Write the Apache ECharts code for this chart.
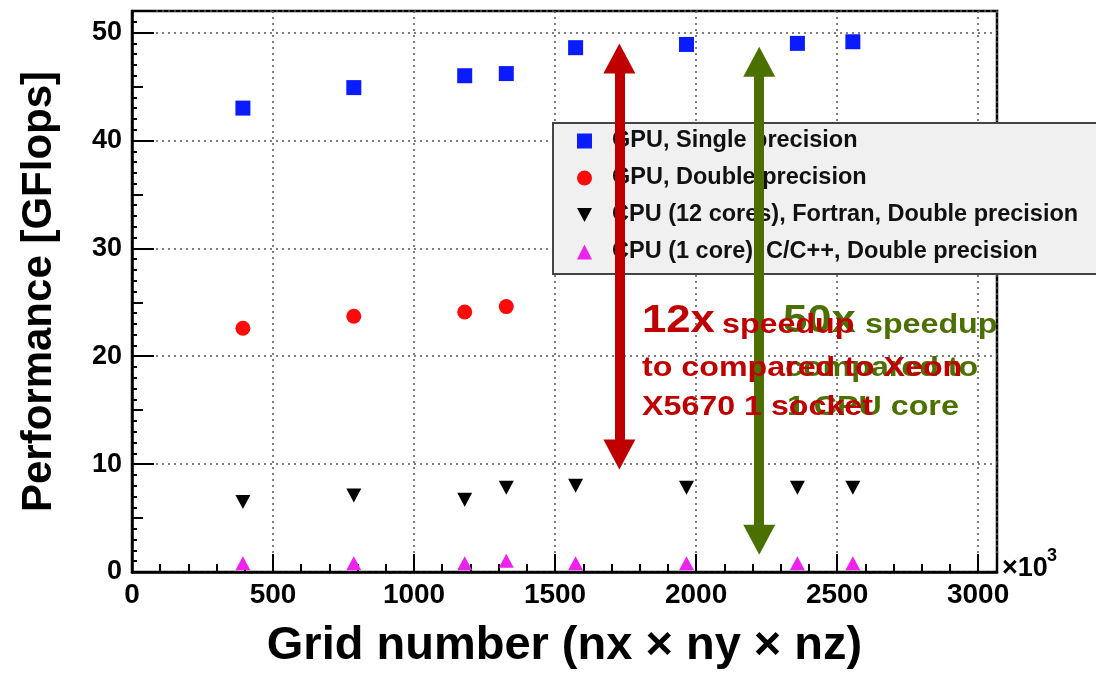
<!DOCTYPE html>
<html>
<head>
<meta charset="utf-8">
<script src="https://cdn.jsdelivr.net/npm/echarts@6/dist/echarts.min.js"></script>
<style>html,body{margin:0;padding:0;background:#fff;}#c{width:1096px;height:675px;}</style>
</head>
<body>
<div id="c"></div>
<script>
// Grid number (x10^3)
const gridX = [393.216, 786.432, 1179.648, 1327.104, 1572.864, 1966.08, 2359.296, 2555.904];
const gpuSingle = [43.0, 44.9, 46.0, 46.2, 48.6, 48.9, 49.0, 49.15];
const gpuDoubleX = [393.216, 786.432, 1179.648, 1327.104];
const gpuDouble = [22.6, 23.7, 24.1, 24.6];
const cpu12 = [6.5, 7.1, 6.7, 7.8, 8.0, 7.8, 7.8, 7.8];
const cpu1 = [0.8, 0.8, 0.8, 1.05, 0.8, 0.8, 0.8, 0.8];
const seriesNames = ['GPU, Single precision', 'GPU, Double precision',
  'CPU (12 cores), Fortran, Double precision', 'CPU (1 core), C/C++, Double precision'];
// Arrow annotations: [x, yStart, yEnd]
const redArrow = [1728, 47.6, 10.9];
const greenArrow = [2224, 47.3, 3.0];

const FONT = "'Liberation Sans', Arial, Helvetica, sans-serif";
const zip = (xs, ys) => xs.map((x, i) => [x, ys[i]]);

const chart = echarts.init(document.getElementById('c'), null, {renderer: 'canvas'});
const option = {
  animation: false,
  backgroundColor: '#fff',
  grid: {left: 132, right: 99, top: 11, bottom: 101, show: true, borderColor: '#000', borderWidth: 2.5, backgroundColor: 'transparent'},
  xAxis: {
    type: 'value', min: 0, max: 3067, interval: 500,
    name: 'Grid number (nx \u00d7 ny \u00d7 nz)', nameLocation: 'middle', nameGap: 51,
    nameTextStyle: {fontFamily: FONT, fontWeight: 'bold', fontSize: 47, color: '#000'},
    axisLine: {show: true, onZero: false, lineStyle: {color: '#000', width: 2.5}},
    axisTick: {show: true, inside: true, length: 18, lineStyle: {color: '#000', width: 2}},
    minorTick: {show: true, splitNumber: 5, length: 8, lineStyle: {color: '#000', width: 2}},
    axisLabel: {fontFamily: FONT, fontWeight: 'bold', fontSize: 28, color: '#000', margin: 9, formatter: v => String(v)},
    splitLine: {show: true, lineStyle: {color: '#555', width: 1.5, type: [2, 4]}}
  },
  yAxis: [{
    type: 'value', min: 0, max: 52, interval: 10,
    name: 'Performance [GFlops]', nameLocation: 'middle', nameGap: 72,
    nameTextStyle: {fontFamily: FONT, fontWeight: 'bold', fontSize: 42, color: '#000'},
    axisLine: {show: true, onZero: false, lineStyle: {color: '#000', width: 2.5}},
    axisTick: {show: true, inside: true, length: 22, lineStyle: {color: '#000', width: 2}},
    minorTick: {show: true, splitNumber: 10, length: 5, lineStyle: {color: '#000', width: 2}},
    axisLabel: {fontFamily: FONT, fontWeight: 'bold', fontSize: 27, color: '#000', margin: 10},
    splitLine: {show: true, lineStyle: {color: '#555', width: 1.5, type: [2, 4]}}
  }, {
    type: 'value', min: 0, max: 52, interval: 5, position: 'left', offset: 0,
    axisLine: {show: false}, axisLabel: {show: false}, splitLine: {show: false},
    axisTick: {show: true, inside: true, length: 11, lineStyle: {color: '#000', width: 2}}
  }],
  legend: {
    data: [
      {name: seriesNames[0]},
      {name: seriesNames[1]},
      {name: seriesNames[2], icon: 'path://M0,0L16,0L8,15Z'},
      {name: seriesNames[3]}
    ],
    orient: 'vertical', left: 553, top: 123,
    itemWidth: 15, itemHeight: 15, itemGap: 13,
    padding: [6, 40, 10, 24],
    backgroundColor: '#f0f0f0', borderColor: '#444', borderWidth: 2,
    textStyle: {fontFamily: FONT, fontWeight: 'bold', fontSize: 23.5, color: '#111', padding: [0, 0, 0, 15]},
    selectedMode: false
  },
  series: [
    {name: seriesNames[0], type: 'scatter', data: zip(gridX, gpuSingle), symbol: 'rect', symbolSize: 15,
      itemStyle: {color: '#0a1cff', opacity: 1}},
    {name: seriesNames[1], type: 'scatter', data: zip(gpuDoubleX, gpuDouble), symbol: 'circle', symbolSize: 15,
      itemStyle: {color: '#ff0a0a', opacity: 1}},
    {name: seriesNames[2], type: 'scatter', data: zip(gridX, cpu12), symbol: 'triangle', symbolRotate: 180, symbolSize: [15, 14],
      itemStyle: {color: '#000', opacity: 1}},
    {name: seriesNames[3], type: 'scatter', data: zip(gridX, cpu1), symbol: 'triangle', symbolSize: [15, 14],
      itemStyle: {color: '#ee22ee', opacity: 1}},
    {name: 'arrows', type: 'scatter', data: [], z: 10, silent: true,
      markLine: {
        silent: true, symbol: ['triangle', 'triangle'], symbolSize: [32, 30],
        label: {show: false}, emphasis: {disabled: true},
        data: [
          [{coord: [greenArrow[0], greenArrow[1]], lineStyle: {color: '#4b7000', width: 10, type: 'solid'}, itemStyle: {color: '#4b7000'}},
           {coord: [greenArrow[0], greenArrow[2]]}],
          [{coord: [redArrow[0], redArrow[1]], lineStyle: {color: '#c00000', width: 10, type: 'solid'}, itemStyle: {color: '#c00000'}},
           {coord: [redArrow[0], redArrow[2]]}]
        ]
      }}
  ]
};
chart.setOption(option);

const t = (text, x, y, size, color, z, sx) => ({
  type: 'text', x: x, y: y, z: z, scaleX: sx || 1.15, silent: true,
  style: {text: text, fill: color, fontFamily: FONT, fontWeight: 'bold', fontSize: size, verticalAlign: 'middle', textVerticalAlign: 'middle'}
});
const GREEN = '#4b7000', RED = '#c00000';
chart.setOption({graphic: [
  t('50x', 783, 322, 38, GREEN, 100),
  t('speedup', 865, 325, 28, GREEN, 100),
  t('compared to', 785, 368, 28, GREEN, 100),
  t('1 CPU core', 787, 407, 28, GREEN, 100),
  t('12x', 642, 322, 38, RED, 110),
  t('speedup', 722, 325, 28, RED, 110),
  t('to compared to Xeon', 642, 368, 28, RED, 110),
  t('X5670 1 socket', 642, 407, 28, RED, 110),
  t('\u00d710', 1002, 569, 27, '#000', 100, 1),
  t('3', 1047, 556, 18, '#000', 100, 1)
]});
</script>
</body>
</html>
